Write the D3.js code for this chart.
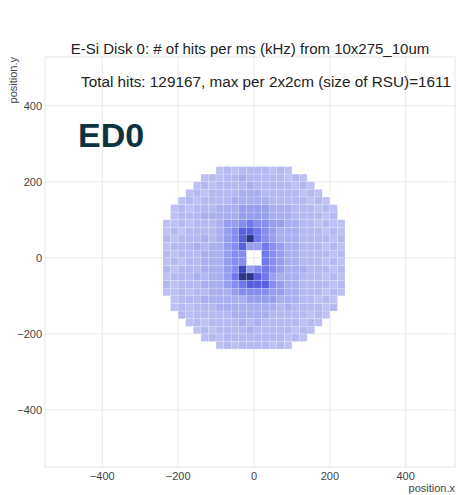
<!DOCTYPE html>
<html>
<head>
<meta charset="utf-8">
<script src="https://cdn.jsdelivr.net/npm/d3@7"></script>
<style>
  body { margin: 0; background: #fff; }
  svg text { font-family: "Liberation Sans", Arial, sans-serif; }
</style>
</head>
<body>
<div id="chart"></div>
<script>
// hit-rate levels per 2x2cm cell
// rows go from y=220..240 (top) down to y=-240..-220, columns from x=-240 to x=220
var cellRows = [
  ".......1212222121.......",
  ".....12122322222121.....",
  "....1212222322222121....",
  "...121222233322222121...",
  "..12122223333322222121..",
  ".1212223334444333222121.",
  ".1222333334444333222212.",
  "112122234456554433221211",
  "121222234577654333222121",
  "212223234579654333222212",
  "122232334574465433222121",
  "21222333455..65433222212",
  "12122333455..65433222121",
  "212223334584565433322212",
  "122232334699764333222121",
  "212223334567775433222212",
  "112122333455554433222121",
  ".1222333333444433322121.",
  ".1212223333333323222212.",
  "..21222223333322222121..",
  "...121222232322222121...",
  "....1212222322222121....",
  ".....12122222222121.....",
  ".......1212222121......."
];
// approx kHz for each level digit
var levelKHz = [170, 215, 255, 300, 380, 480, 620, 800, 1050, 1611];
var xTicks = [-400, -200, 0, 200, 400];
var yTicks = [-400, -200, 0, 200, 400];
var cellSize = 20;

var width = 458, height = 495;
var margin = {top: 57, right: 3, bottom: 28, left: 45};

var svg = d3.select("#chart").append("svg")
    .attr("width", width)
    .attr("height", height);

var x = d3.scaleLinear().domain([-551, 530]).range([margin.left, width - margin.right]);
var y = d3.scaleLinear().domain([-550, 528]).range([height - margin.bottom, margin.top]);

var color = d3.scaleLinear()
    .domain([200, 260, 320, 450, 700, 1000, 1611])
    .range(["#c1c4f3", "#b4b8f1", "#a5aaf0", "#8c92ee", "#656cea", "#4148c8", "#2e3486"]);

// grid
svg.append("g")
    .selectAll("line.gx")
    .data(xTicks)
    .enter().append("line")
    .attr("x1", function (d) { return x(d); })
    .attr("x2", function (d) { return x(d); })
    .attr("y1", y.range()[0])
    .attr("y2", y.range()[1])
    .attr("stroke", "#ebebeb");

svg.append("g")
    .selectAll("line.gy")
    .data(yTicks)
    .enter().append("line")
    .attr("y1", function (d) { return y(d); })
    .attr("y2", function (d) { return y(d); })
    .attr("x1", x.range()[0])
    .attr("x2", x.range()[1])
    .attr("stroke", "#ebebeb");

svg.append("rect")
    .attr("x", x.range()[0])
    .attr("y", y.range()[1])
    .attr("width", x.range()[1] - x.range()[0])
    .attr("height", y.range()[0] - y.range()[1])
    .attr("fill", "none")
    .attr("stroke", "#e6e6e6");

// cells
var cells = [];
cellRows.forEach(function (row, r) {
    var j = 11 - r;
    row.split("").forEach(function (ch, c) {
        if (ch === ".") return;
        cells.push({x0: (c - 12) * cellSize, y0: j * cellSize, v: levelKHz[+ch]});
    });
});

svg.append("g")
    .selectAll("rect")
    .data(cells)
    .enter().append("rect")
    .attr("x", function (d) { return x(d.x0); })
    .attr("y", function (d) { return y(d.y0 + cellSize); })
    .attr("width", function (d) { return x(d.x0 + cellSize) - x(d.x0); })
    .attr("height", function (d) { return y(d.y0) - y(d.y0 + cellSize); })
    .attr("fill", function (d) { return color(d.v); })
    .attr("stroke", "#ffffff")
    .attr("stroke-opacity", 0.3)
    .attr("stroke-width", 0.5);

// axes
var fmt = function (d) { return d < 0 ? "\u2212" + Math.abs(d) : d; };

svg.append("g")
    .selectAll("text")
    .data(xTicks)
    .enter().append("text")
    .attr("x", function (d) { return x(d); })
    .attr("y", y.range()[0] + 13)
    .attr("text-anchor", "middle")
    .style("font-size", "11px")
    .attr("fill", "#444")
    .text(fmt);

svg.append("g")
    .selectAll("text")
    .data(yTicks)
    .enter().append("text")
    .attr("x", x.range()[0] - 3)
    .attr("y", function (d) { return y(d); })
    .attr("dy", "0.35em")
    .attr("text-anchor", "end")
    .style("font-size", "11px")
    .attr("fill", "#444")
    .text(fmt);

svg.append("text")
    .attr("x", x.range()[1])
    .attr("y", y.range()[0] + 25)
    .attr("text-anchor", "end")
    .style("font-size", "11px")
    .attr("fill", "#444")
    .text("position.x");

svg.append("text")
    .attr("transform", "translate(17," + y.range()[1] + ") rotate(-90)")
    .attr("text-anchor", "end")
    .style("font-size", "11px")
    .attr("fill", "#444")
    .text("position.y");

// titles
svg.append("text")
    .attr("x", 250)
    .attr("y", 54)
    .attr("text-anchor", "middle")
    .style("font-size", "15px")
    .attr("fill", "#222")
    .text("E-Si Disk 0: # of hits per ms (kHz) from 10x275_10um");

svg.append("text")
    .attr("x", 451)
    .attr("y", 87)
    .attr("text-anchor", "end")
    .style("font-size", "15.3px")
    .attr("fill", "#222")
    .text("Total hits: 129167, max per 2x2cm (size of RSU)=1611");

svg.append("text")
    .attr("x", 78)
    .attr("y", 147)
    .style("font-size", "34px")
    .style("font-weight", "bold")
    .attr("fill", "#0e3340")
    .text("ED0");
</script>
</body>
</html>
